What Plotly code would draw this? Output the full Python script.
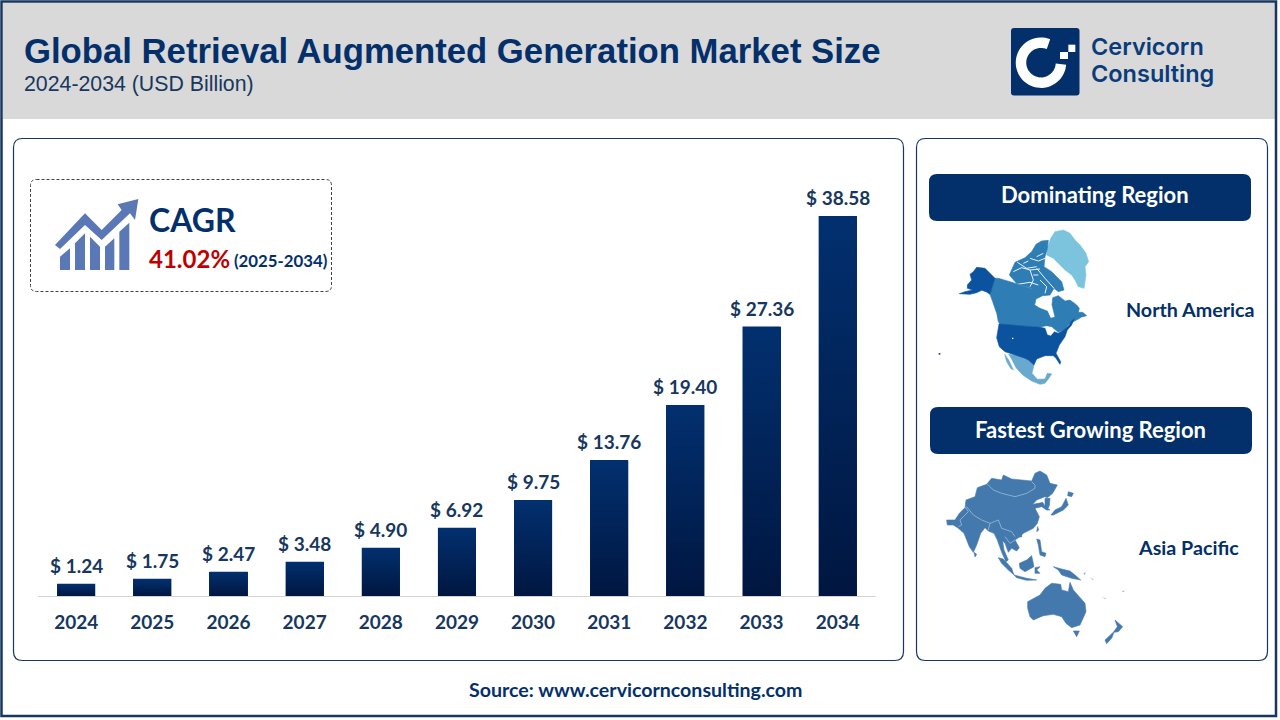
import math
import plotly.graph_objects as go

# ---- data ----
years = [2024, 2025, 2026, 2027, 2028, 2029, 2030, 2031, 2032, 2033, 2034]
market_size = [1.24, 1.75, 2.47, 3.48, 4.90, 6.92, 9.75, 13.76, 19.40, 27.36, 38.58]
title_text = "Global Retrieval Augmented Generation Market Size"
subtitle_text = "2024-2034 (USD Billion)"
cagr_value = "41.02%"
cagr_period = "(2025-2034)"
dominating_region = "North America"
fastest_region = "Asia Pacific"
source_text = "Source: www.cervicornconsulting.com"

# ---- style ----
W, H = 1280, 720
NAVY = "#03306B"
INK = "#17375E"
BAR_TOP = "#02306F"
BAR_BOTTOM = "#001640"
LABEL_FONT = "Lato"
BAR_WIDTH = 0.5


def px(x):
    return x / W


def py(y):
    return 1 - y / H


def rounded(x0, y0, x1, y1, r):
    c = lambda x, y: f"{px(x):.5f} {py(y):.5f}"
    return (f"M {c(x0 + r, y0)} L {c(x1 - r, y0)} Q {c(x1, y0)} {c(x1, y0 + r)} "
            f"L {c(x1, y1 - r)} Q {c(x1, y1)} {c(x1 - r, y1)} L {c(x0 + r, y1)} "
            f"Q {c(x0, y1)} {c(x0, y1 - r)} L {c(x0, y0 + r)} Q {c(x0, y0)} {c(x0 + r, y0)} Z")


def poly(origin, pts, scale=1 / 3, close=True):
    ox, oy = origin
    s = " L ".join(f"{px(ox + a * scale):.5f} {py(oy + b * scale):.5f}" for a, b in pts)
    return "M " + s + (" Z" if close else "")


shapes = []


def box(x0, y0, x1, y1, r, fill="rgba(0,0,0,0)", line=None, lw=1, dash=None):
    shapes.append(dict(type="path", path=rounded(x0, y0, x1, y1, r), xref="paper", yref="paper",
                       fillcolor=fill, layer="below",
                       line=dict(color=line or "rgba(0,0,0,0)", width=lw if line else 0, dash=dash or "solid")))


def blob(origin, pts, fill, edge=0.0):
    shapes.append(dict(type="path", path=poly(origin, pts), xref="paper", yref="paper",
                       fillcolor=fill, layer="below", line=dict(color=fill, width=edge)))


def stroke(origin, pts, color, width):
    shapes.append(dict(type="path", path=poly(origin, pts, close=False), xref="paper", yref="paper",
                       layer="below", line=dict(color=color, width=width)))


# frame and panels
box(3, 3, 1275, 119, 0, fill="#D9D9D9")
box(1.5, 1.5, 1276, 716, 0, line=INK, lw=2.5)
box(13.5, 138.5, 903.5, 660.5, 9, fill="#FFFFFF", line=INK, lw=1.2)
box(916.5, 138.5, 1267.5, 660.5, 9, fill="#FFFFFF", line=INK, lw=1.2)
box(30.5, 179.5, 331.5, 291.5, 6, line="#404040", lw=1, dash="3px,2px")
box(929, 174, 1251, 221, 8, fill=NAVY)
box(930, 407, 1252, 454, 8, fill=NAVY)

# logo
LOGO = (1005, 22)
box(1011, 28, 1079.5, 95.5, 3, fill=NAVY)
arc = [(108 + 60 * math.cos(math.radians(a)), 122 + 60 * math.sin(math.radians(a)))
       for a in range(-68, -360 - 2, -6)]
stroke(LOGO, arc, "#FFFFFF", 10.5)
blob(LOGO, [(190, 68), (211, 68), (211, 90), (190, 90)], "#FFFFFF")
blob(LOGO, [(165, 90), (189, 90), (189, 111), (165, 111)], "#FFFFFF")

# CAGR icon
ICON = (50, 195)
ICON_C = "#5A78B6"
blob(ICON, [(15, 150), (105, 55), (155, 105), (215, 45), (203, 28), (265, 12), (255, 75), (240, 55),
            (155, 135), (105, 90), (30, 162)], ICON_C)
blob(ICON, [(30, 185), (60, 160), (60, 225), (30, 225)], ICON_C)
blob(ICON, [(75, 145), (105, 115), (105, 225), (75, 225)], ICON_C)
blob(ICON, [(120, 125), (150, 155), (150, 225), (120, 225)], ICON_C)
blob(ICON, [(165, 155), (193, 130), (193, 225), (165, 225)], ICON_C)
blob(ICON, [(208, 110), (238, 83), (238, 225), (208, 225)], ICON_C)

# North America illustration
NA = (930, 225)
CANADA = "#2E7DB4"
USA = "#0B539F"
MEX = "#6AA9CF"
GREEN = "#7CC4DE"
WHITE = "#FFFFFF"
blob(NA, [(352, 70), (362, 40), (375, 20), (400, 15), (420, 25), (435, 45), (450, 60), (468, 85), (476, 110),
          (465, 125), (468, 150), (462, 190), (445, 185), (435, 165), (425, 150), (405, 135), (385, 115),
          (370, 100), (350, 90)], GREEN, 0.6)
# archipelago as one mass, split by white channels
blob(NA, [(238, 150), (255, 112), (285, 98), (305, 80), (318, 58), (335, 48), (355, 46), (352, 72), (345, 95),
          (342, 125), (365, 140), (395, 170), (402, 195), (385, 200), (372, 190), (360, 210), (340, 212),
          (320, 200), (300, 188), (262, 178)], CANADA, 0.6)
for ch in [[(262, 112), (290, 130), (320, 125)], [(300, 100), (325, 108), (345, 100)],
           [(250, 140), (275, 128), (300, 135), (330, 132)], [(300, 135), (310, 165), (300, 185)],
           [(320, 130), (345, 160), (372, 190)], [(320, 95), (340, 85)], [(330, 165), (350, 185), (345, 205)],
           [(262, 178), (300, 172), (325, 180)], [(280, 115), (295, 108)], [(310, 150), (325, 150)]]:
    stroke(NA, ch, WHITE, 0.9)
# Canadian mainland
blob(NA, [(180, 208), (195, 160), (205, 160), (240, 170), (270, 180), (300, 190), (325, 198), (338, 212),
          (318, 222), (314, 240), (330, 250), (352, 258), (362, 280), (375, 276), (366, 240), (368, 218),
          (385, 212), (405, 228), (420, 225), (440, 240), (448, 250), (445, 262), (458, 262), (470, 272),
          (455, 276), (445, 282), (430, 290), (415, 300), (405, 312), (385, 322), (365, 305), (345, 303),
          (330, 307), (210, 298), (205, 290), (200, 265), (188, 230)], CANADA, 0.6)
# Alaska
blob(NA, [(112, 180), (125, 165), (120, 148), (130, 140), (140, 127), (165, 130), (195, 160), (180, 208),
          (168, 200), (155, 196), (140, 203), (120, 208), (88, 206), (105, 200), (128, 195), (112, 190)], USA, 0.6)
# Mexico and Baja
blob(NA, [(236, 388), (265, 392), (292, 402), (312, 420), (306, 445), (322, 463), (345, 462), (352, 445),
          (365, 447), (355, 462), (345, 475), (330, 478), (305, 468), (278, 450), (258, 428), (245, 402)], MEX, 0.6)
blob(NA, [(224, 388), (236, 405), (250, 435), (242, 430), (230, 410)], MEX, 0.6)
# United States
blob(NA, [(207, 297), (330, 307), (345, 310), (352, 330), (362, 332), (372, 320), (385, 325), (405, 312),
          (418, 300), (425, 288), (432, 282), (425, 300), (412, 315), (405, 335), (388, 360), (378, 385),
          (392, 410), (390, 418), (378, 400), (370, 392), (345, 392), (320, 402), (312, 420), (295, 405),
          (285, 400), (262, 392), (240, 385), (225, 380), (208, 365), (200, 338)], USA, 0.6)
blob(NA, [(345, 303), (368, 307), (355, 316)], WHITE)
blob(NA, [(358, 312), (372, 320), (362, 332), (355, 325)], WHITE)
blob(NA, [(246, 338), (250, 338), (250, 342), (246, 342)], WHITE)
blob(NA, [(26, 384), (31, 384), (31, 389), (26, 389)], "#1F3B63")

# Asia Pacific illustration
A1 = (940, 465)
A2 = (990, 545)
AP = "#4479AE"
blob(A1, [(20, 165), (45, 165), (58, 145), (75, 128), (78, 105), (105, 95), (112, 68), (140, 58), (155, 40),
          (185, 45), (190, 30), (215, 42), (245, 45), (275, 48), (285, 25), (300, 18), (320, 30), (330, 55),
          (352, 60), (338, 85), (322, 98), (315, 95), (290, 105), (278, 118), (295, 115), (308, 112), (318, 128),
          (330, 135), (320, 135), (305, 125), (285, 130), (298, 155), (292, 175), (280, 190), (250, 205),
          (240, 215), (225, 225), (238, 248), (230, 258), (215, 250), (205, 262), (195, 235), (188, 228),
          (192, 255), (205, 285), (198, 290), (185, 262), (172, 225), (162, 205), (145, 198), (135, 188),
          (122, 205), (110, 240), (100, 262), (88, 245), (72, 205), (55, 190), (40, 180), (22, 180)], AP, 0.6)
blob(A1, [(315, 100), (330, 100), (328, 122), (322, 135), (315, 130)], AP, 0.6)
blob(A1, [(333, 150), (345, 135), (365, 125), (378, 100), (385, 120), (370, 135), (340, 150)], AP, 0.6)
blob(A1, [(385, 80), (400, 85), (395, 95), (383, 92)], AP, 0.6)
blob(A1, [(102, 262), (110, 268), (105, 276)], AP, 0.6)
blob(A1, [(238, 210), (245, 208), (245, 216), (238, 216)], AP, 0.6)
blob(A1, [(293, 185), (296, 195), (290, 200)], AP, 0.6)
blob(A1, [(290, 222), (300, 225), (305, 260), (318, 265), (315, 275), (300, 270), (295, 240)], AP, 0.6)
BORDER = "#9DBBD6"
stroke(A1, [(140, 55), (160, 75), (185, 85), (225, 95), (260, 85), (285, 70), (285, 60), (275, 50)], BORDER, 0.8)
stroke(A1, [(80, 125), (100, 150), (125, 165), (150, 175), (175, 165), (185, 190), (215, 200), (225, 215)], BORDER, 0.8)
stroke(A1, [(75, 125), (85, 140), (60, 165), (65, 180), (55, 185)], BORDER, 0.8)
stroke(A1, [(150, 175), (145, 195)], BORDER, 0.8)
stroke(A1, [(195, 215), (210, 235), (225, 225)], BORDER, 0.8)
blob(A2, [(25, 38), (40, 42), (65, 70), (72, 90), (55, 75), (35, 55)], AP, 0.6)
blob(A2, [(88, 55), (110, 45), (125, 32), (132, 65), (105, 80), (90, 70)], AP, 0.6)
blob(A2, [(135, 68), (150, 65), (140, 75), (150, 85), (135, 85)], AP, 0.6)
blob(A2, [(72, 90), (110, 100), (140, 105), (110, 106), (80, 98)], AP, 0.6)
blob(A2, [(190, 65), (215, 72), (240, 78), (255, 90), (272, 105), (245, 100), (215, 90), (205, 75)], AP, 0.6)
blob(A2, [(113, 170), (150, 150), (165, 130), (185, 115), (212, 118), (215, 135), (235, 140), (240, 112),
          (250, 135), (285, 175), (288, 200), (270, 240), (245, 248), (228, 235), (215, 215), (190, 208),
          (160, 212), (130, 225), (120, 215), (113, 190)], AP, 0.6)
blob(A2, [(250, 258), (268, 258), (260, 275)], AP, 0.6)
blob(A2, [(375, 225), (398, 245), (385, 260), (372, 262), (365, 280), (350, 296), (345, 285), (370, 262),
          (382, 245)], AP, 0.6)
blob(A2, [(394, 142), (404, 135), (402, 140)], "#8FAFCF")
blob(A2, [(335, 153), (348, 161), (346, 163)], "#8FAFCF")
blob(A2, [(280, 85), (288, 82), (284, 90)], "#8FAFCF")
blob(A2, [(300, 95), (312, 104), (308, 106)], "#B5C9DE")

# ---- chart ----
fig = go.Figure()
fig.add_trace(go.Bar(
    x=years, y=market_size, width=BAR_WIDTH,
    marker=dict(color=BAR_TOP, line=dict(width=0)),
    showlegend=False,
))
for yr, v in zip(years, market_size):
    fig.add_trace(go.Scatter(
        x=[yr - BAR_WIDTH / 2, yr + BAR_WIDTH / 2, yr + BAR_WIDTH / 2, yr - BAR_WIDTH / 2, yr - BAR_WIDTH / 2],
        y=[0, 0, v, v, 0], mode="lines", line=dict(width=0), fill="toself",
        fillgradient=dict(type="vertical", colorscale=[[0, BAR_BOTTOM], [1, BAR_TOP]]),
        hoverinfo="skip", showlegend=False,
    ))

annotations = []
for yr, v in zip(years, market_size):
    annotations.append(dict(x=yr, y=v, xref="x", yref="y", text=f"$ {v:.2f}", showarrow=False,
                            xanchor="center", yanchor="middle", yshift=18.5, borderpad=0,
                            font=dict(family=LABEL_FONT, size=19, color=INK, weight=700)))


def label(x, y, text, size, color=INK, family=LABEL_FONT, anchor="left", weight=700):
    annotations.append(dict(x=px(x), y=py(y), xref="paper", yref="paper", text=text, showarrow=False,
                            xanchor=anchor, yanchor="middle", borderpad=0, borderwidth=0,
                            font=dict(family=family, size=size, color=color, weight=weight)))


label(24, 51, title_text, 34.7, color=NAVY, family="Liberation Sans")
label(24, 84, subtitle_text, 21.3, color=INK, family="Liberation Sans", weight=400)
label(1091, 46, "Cervicorn", 23.5, color="#0B3C7A", family="Inter", weight=600)
label(1091, 73.5, "Consulting", 23.5, color="#0B3C7A", family="Inter", weight=600)
label(149, 219, "CAGR", 32, color=NAVY)
label(149, 258, cagr_value, 24, color="#C00000")
label(234, 260, cagr_period, 16.8, color=NAVY)
label(1095, 195, "Dominating Region", 22, color="#FFFFFF", anchor="center")
label(1090, 429, "Fastest Growing Region", 22, color="#FFFFFF", anchor="center")
label(1126, 309, dominating_region, 19.7, color=NAVY)
label(1138, 547, fastest_region, 19.7, color=NAVY)
label(635.5, 689.5, source_text, 19.6, color=NAVY, anchor="center")

X0, X1, Y_TOP, Y_BASE = 38, 876, 150, 596
UNIT = 76.15
fig.update_layout(
    width=W, height=H, margin=dict(l=0, r=0, t=0, b=0, pad=0),
    paper_bgcolor="#FFFFFF", plot_bgcolor="rgba(0,0,0,0)",
    shapes=shapes, annotations=annotations, bargap=0, showlegend=False,
    xaxis=dict(domain=[px(X0), px(X1)], range=[2024 - (76.2 - X0) / UNIT, 2034 + (X1 - 837.7) / UNIT],
               tickvals=years, ticktext=[str(y) for y in years], ticks="outside", ticklen=9,
               tickcolor="rgba(0,0,0,0)", showgrid=False, zeroline=False, showline=True,
               linecolor="#D4D4D4", linewidth=1,
               tickfont=dict(family=LABEL_FONT, size=19, color=INK, weight=700)),
    yaxis=dict(domain=[py(Y_BASE), py(Y_TOP)], range=[0, (Y_BASE - Y_TOP) / 9.85], visible=False),
)
fig.write_html("out.html", config=dict(displayModeBar=False),
               post_script="document.body.style.margin='0';")
